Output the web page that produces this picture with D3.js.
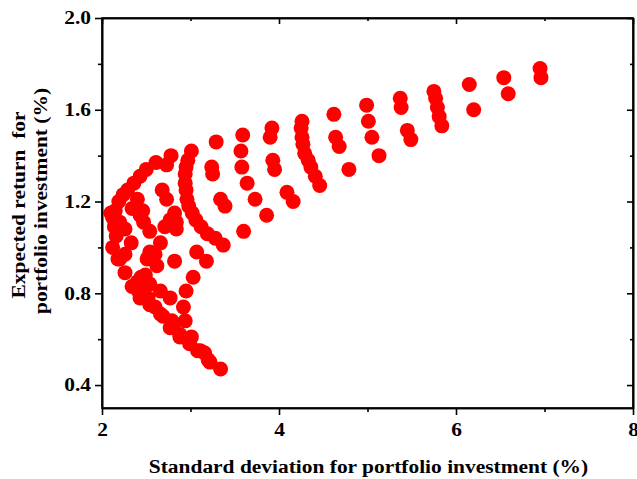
<!DOCTYPE html>
<html>
<head>
<meta charset="utf-8">
<script src="https://cdn.jsdelivr.net/npm/d3@7"></script>
<style>
  body { margin: 0; background: #fff; }
  text { font-family: "Liberation Serif", "Times New Roman", serif; font-weight: bold; }
</style>
</head>
<body>
<div class="chart"></div>
<script>
// standard deviation (%) and expected return (%) of each portfolio
const sdValues = [
  6.95, 6.96, 6.54, 6.59, 6.15, 6.20, 5.75, 5.77, 5.79, 5.81, 5.84,
  5.37, 5.38, 5.45, 5.49, 4.99, 5.01, 5.05, 5.13, 4.62, 4.64, 4.68, 4.79,
  4.26, 4.25, 4.26, 4.27, 4.29, 4.33, 4.36, 4.41, 4.46, 4.09, 4.16,
  3.92, 3.90, 3.93, 3.95, 3.59, 3.57, 3.58, 3.64, 3.73, 3.86,
  3.29, 3.24, 3.25, 3.34, 3.39, 3.60,
  3.01, 2.97, 2.95, 2.94, 2.94, 2.95, 2.96, 2.98, 3.02, 3.06, 3.12, 3.19, 3.28, 3.37,
  2.78, 2.73, 2.61, 2.50, 2.43, 2.36, 2.29, 2.24, 2.19, 2.15, 2.12, 2.14, 2.16, 2.12, 2.18, 2.26,
  2.34, 2.43, 2.54, 2.66, 2.77, 2.88, 2.99, 3.08, 3.16, 3.22, 3.34,
  3.07, 3.18, 3.03, 2.95, 2.92, 2.94, 3.01, 3.11, 3.20,
  2.68, 2.73, 2.40, 2.34, 2.43, 2.47, 2.54, 2.33, 2.84, 2.77, 2.71, 2.84, 2.66,
  2.60, 2.62, 2.82, 2.54, 2.51, 2.40, 2.46, 2.54, 2.41, 2.52, 2.66, 2.77,
  2.60, 2.69, 2.79, 2.80, 2.88, 2.99,
  2.10, 2.15, 2.20, 2.26, 2.20, 2.26, 2.46, 2.82, 2.49, 2.44
];
const returnValues = [
  1.78, 1.74, 1.74, 1.67, 1.71, 1.60, 1.68, 1.65, 1.61, 1.57, 1.53,
  1.65, 1.61, 1.51, 1.47, 1.62, 1.55, 1.48, 1.40, 1.58, 1.48, 1.44, 1.34,
  1.55, 1.52, 1.48, 1.45, 1.41, 1.38, 1.35, 1.31, 1.27, 1.24, 1.20,
  1.52, 1.48, 1.38, 1.34, 1.49, 1.42, 1.35, 1.28, 1.21, 1.14,
  1.46, 1.35, 1.32, 1.21, 1.18, 1.07,
  1.42, 1.38, 1.35, 1.32, 1.28, 1.25, 1.21, 1.18, 1.15, 1.12, 1.09, 1.06, 1.04, 1.01,
  1.40, 1.36, 1.37, 1.34, 1.31, 1.28, 1.25, 1.23, 1.20, 1.16, 1.13, 1.09, 1.05, 1.00, 0.95, 0.89,
  0.83, 0.78, 0.75, 0.71, 0.65, 0.61, 0.58, 0.55, 0.54, 0.50, 0.47,
  0.98, 0.94, 0.87, 0.81, 0.74, 0.68, 0.61, 0.55, 0.51,
  1.25, 1.21, 1.21, 1.17, 1.14, 1.11, 1.07, 1.02, 1.11, 1.12, 1.09, 1.08, 1.02,
  0.97, 0.92, 0.94, 0.98, 0.95, 0.85, 0.83, 0.84, 0.81, 0.78, 0.81, 0.78,
  0.74, 0.70, 0.68, 0.65, 0.62, 0.59,
  1.15, 1.09, 1.11, 1.08, 0.95, 0.97, 1.16, 1.15, 0.88, 0.87
];
const xTicks = [2, 4, 6, 8];
const xMinor = [3, 5, 7];
const yTicks = [0.4, 0.8, 1.2, 1.6, 2.0];
const yMinor = [0.6, 1.0, 1.4, 1.8];

const data = sdValues.map((d, i) => ({sd: d, ret: returnValues[i]}));

const margin = {top: 18, right: 4, bottom: 71, left: 102};
const width = 637 - margin.left - margin.right,
      height = 479 - margin.top - margin.bottom;
const stretch = 1.19; // the original's type is a bit wider than Times

const svg = d3.select(".chart").append("svg")
    .attr("width", 637)
    .attr("height", 479)
  .append("g")
    .attr("transform", "translate(" + margin.left + "," + margin.top + ")");

const xScale = d3.scaleLinear().domain([2, 8]).range([0, width]);
const yScale = d3.scaleLinear().domain([0.3, 2.0]).range([height, 0]);

svg.selectAll(".dot")
    .data(data)
    .enter()
    .append("circle")
    .attr("class", "dot")
    .attr("cx", d => xScale(d.sd))
    .attr("cy", d => yScale(d.ret))
    .attr("r", 7.5)
    .attr("fill", "#ff0000");

function widen(sel) {
    sel.each(function() {
        const w = this.getComputedTextLength();
        if (w > 0) {
            this.setAttribute("textLength", w * stretch);
            this.setAttribute("lengthAdjust", "spacingAndGlyphs");
        }
    });
}

function styleAxis(g) {
    g.selectAll("path, line").attr("stroke", "#000").attr("stroke-width", 1.6);
    g.selectAll("text").attr("font-family", "Liberation Serif, serif")
        .attr("font-weight", "bold").attr("font-size", 18).attr("fill", "#000")
        .call(widen);
}

// bottom and left: outward ticks with labels
svg.append("g")
    .attr("transform", `translate(0, ${height})`)
    .call(d3.axisBottom(xScale).tickValues(xTicks).tickFormat(d3.format("d")).tickSize(7).tickSizeOuter(0).tickPadding(8))
    .call(styleAxis);
svg.append("g")
    .attr("transform", `translate(0, ${height})`)
    .call(d3.axisBottom(xScale).tickValues(xMinor).tickFormat("").tickSize(4).tickSizeOuter(0))
    .call(styleAxis);

svg.append("g")
    .call(d3.axisLeft(yScale).tickValues(yTicks).tickFormat(d3.format(".1f")).tickSize(7).tickSizeOuter(0).tickPadding(4))
    .call(styleAxis);
svg.append("g")
    .call(d3.axisLeft(yScale).tickValues(yMinor).tickFormat("").tickSize(4).tickSizeOuter(0))
    .call(styleAxis);

// top and right: inward ticks, no labels
svg.append("g")
    .call(d3.axisTop(xScale).tickValues(xTicks).tickFormat("").tickSize(-6).tickSizeOuter(0))
    .call(styleAxis);
svg.append("g")
    .call(d3.axisTop(xScale).tickValues(xMinor).tickFormat("").tickSize(-3).tickSizeOuter(0))
    .call(styleAxis);
svg.append("g")
    .attr("transform", `translate(${width}, 0)`)
    .call(d3.axisRight(yScale).tickValues(yTicks).tickFormat("").tickSize(-6).tickSizeOuter(0))
    .call(styleAxis);
svg.append("g")
    .attr("transform", `translate(${width}, 0)`)
    .call(d3.axisRight(yScale).tickValues(yMinor).tickFormat("").tickSize(-3).tickSizeOuter(0))
    .call(styleAxis);

svg.append("rect")
    .attr("width", width)
    .attr("height", height)
    .attr("fill", "none")
    .attr("stroke", "#000")
    .attr("stroke-width", 1.6);

svg.append("text")
    .attr("x", width / 2 + 1)
    .attr("y", height + 65)
    .attr("text-anchor", "middle")
    .attr("font-size", 18)
    .text("Standard deviation for portfolio investment (%)")
    .call(widen);

svg.append("text")
    .attr("transform", "translate(-77," + 187 + ") rotate(-90)")
    .attr("text-anchor", "middle")
    .attr("font-size", 18)
    .attr("xml:space", "preserve")
    .text("Expected return  for")
    .call(widen);

svg.append("text")
    .attr("transform", "translate(-55," + 183 + ") rotate(-90)")
    .attr("text-anchor", "middle")
    .attr("font-size", 18)
    .text("portfolio investment (%)")
    .call(widen);
</script>
</body>
</html>
